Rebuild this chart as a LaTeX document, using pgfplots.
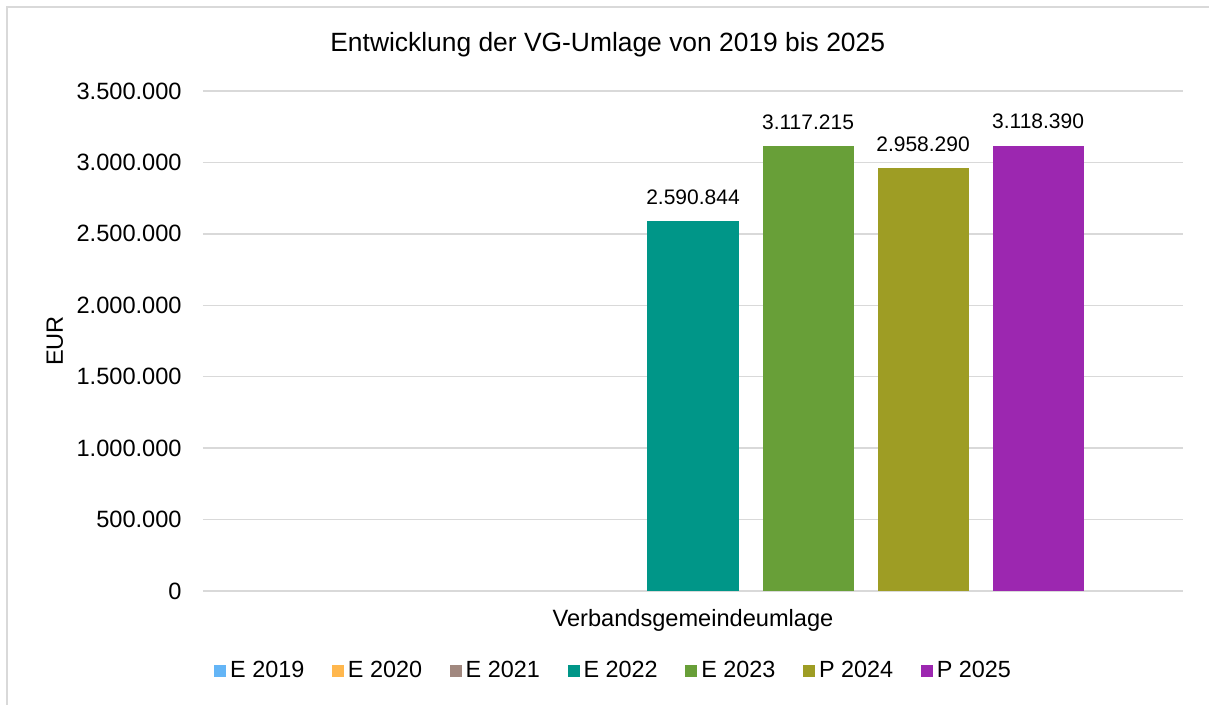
\documentclass[border=0pt]{standalone}
\usepackage{pgfplots}
\pgfplotsset{compat=1.18}
\usepackage{fontspec}
\setmainfont{Liberation Sans}
\definecolor{e2019}{HTML}{64B5F6}
\definecolor{e2020}{HTML}{FFB74D}
\definecolor{e2021}{HTML}{A1887F}
\definecolor{e2022}{HTML}{009688}
\definecolor{e2023}{HTML}{689F38}
\definecolor{p2024}{HTML}{9E9D24}
\definecolor{p2025}{HTML}{9C27B0}
\definecolor{gridc}{HTML}{D9D9D9}
\newcommand{\eur}[1]{\pgfmathprintnumber[fixed,precision=0,1000 sep={.},assume math mode=true]{#1}}
\begin{document}
\begin{tikzpicture}
\begin{axis}[
    scale only axis,
    width=490pt, height=250pt,
    xmin=-4.26, xmax=4.26,
    ymin=0, ymax=3500000,
    ytick distance=500000,
    scaled y ticks=false,
    xtick=\empty,
    ymajorgrids=true,
    grid style={gridc, line width=0.75pt},
    axis line style={draw=none},
    major tick length=0pt,
    ybar, bar width=0.7913, bar shift=0pt,
    clip=false,
    unbounded coords=discard,
    tick label style={font=\fontsize{11.8}{14}\selectfont},
    yticklabel style={anchor=east, inner sep=0pt, xshift=-10.5pt,
        /pgf/number format/fixed, /pgf/number format/precision=0,
        /pgf/number format/1000 sep={.}, /pgf/number format/assume math mode=true},
    title={Entwicklung der VG-Umlage von 2019 bis 2025},
    every axis title shift=0pt,
    title style={at={(0.413,1.078)}, anchor=base, inner sep=0pt, font=\fontsize{13.2}{15}\selectfont},
    ylabel={EUR},
    ylabel style={at={(-0.1429,0.5)}, anchor=base, rotate=0, inner sep=0pt, font=\fontsize{11.8}{14}\selectfont},
    xlabel={Verbandsgemeindeumlage},
    xlabel style={at={(0.5,-0.072)}, anchor=base, inner sep=0pt, font=\fontsize{11.8}{14}\selectfont},
    legend columns=7,
    legend style={at={(0.42,-0.16)}, anchor=center, draw=none,
        font=\fontsize{11.7}{14}\selectfont,
        /tikz/every even column/.append style={column sep=11.8pt}},
    legend image code/.code={\fill[#1] (0pt,-3pt) rectangle (6pt,3pt);},
    every node near coord/.append style={anchor=south, inner sep=0pt, yshift=8pt, font=\fontsize{10.5}{12}\selectfont},
]
% zero-valued years: no visible bar, legend entry only
\addlegendimage{fill=e2019, draw=none}
\addlegendimage{fill=e2020, draw=none}
\addlegendimage{fill=e2021, draw=none}
\addplot[fill=e2019, draw=none, forget plot, y filter/.expression={y==0 ? nan : y}] coordinates {(-3,0)};
\addplot[fill=e2020, draw=none, forget plot, y filter/.expression={y==0 ? nan : y}] coordinates {(-2,0)};
\addplot[fill=e2021, draw=none, forget plot, y filter/.expression={y==0 ? nan : y}] coordinates {(-1,0)};
\addplot[fill=e2022, draw=none, nodes near coords={\eur{\pgfplotspointmeta}}] coordinates {(0,2590844)};
\addplot[fill=e2023, draw=none, nodes near coords={\eur{\pgfplotspointmeta}}] coordinates {(1,3117215)};
\addplot[fill=p2024, draw=none, nodes near coords={\eur{\pgfplotspointmeta}}] coordinates {(2,2958290)};
\addplot[fill=p2025, draw=none, nodes near coords={\eur{\pgfplotspointmeta}}] coordinates {(3,3118390)};
\legend{E 2019, E 2020, E 2021, E 2022, E 2023, P 2024, P 2025}
\end{axis}
\draw[gridc, line width=1pt] (-98pt,-57pt) -- (-98pt,292pt) -- (503pt,292pt);
\pgfresetboundingbox
\useasboundingbox (-101.5pt,-57pt) rectangle (503pt,295.5pt);
\end{tikzpicture}
\end{document}
